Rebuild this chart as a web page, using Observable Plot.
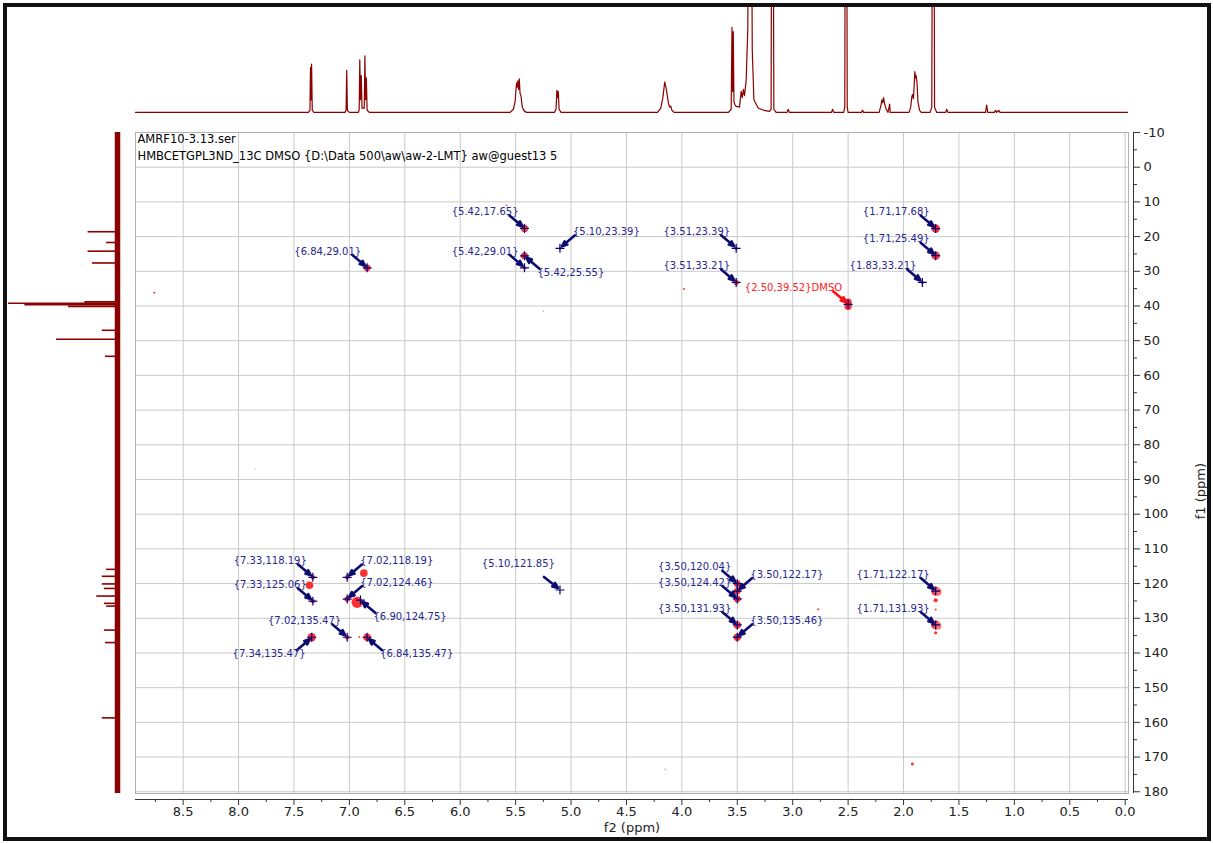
<!DOCTYPE html>
<html><head><meta charset="utf-8">
<script src="https://cdn.jsdelivr.net/npm/d3@7"></script>
<script src="https://cdn.jsdelivr.net/npm/@observablehq/plot@0.6"></script>
<style>
body{margin:0;background:#fff;}
#wrap{position:relative;width:1213px;height:843px;overflow:hidden;background:#fff;font-family:"DejaVu Sans",sans-serif;}
#border{position:absolute;left:3px;top:3px;width:1200px;height:830px;border:4px solid #111;pointer-events:none;}
.part{position:absolute;}
</style></head><body>
<div id="wrap">
<div id="top" class="part" style="left:135px;top:0px;width:993px;height:118px"></div>
<div id="left" class="part" style="left:0px;top:132px;width:135px;height:661px"></div>
<div id="main" class="part" style="left:120px;top:118px;width:1093px;height:725px"></div>
<div id="border"></div>
</div>
<script>
// ---------- data ----------
const xDomain = [8.93, -0.03];      // f2 (ppm)
const yDomain = [-10, 180.5];       // f1 (ppm)
const xMajor = [0,0.5,1,1.5,2,2.5,3,3.5,4,4.5,5,5.5,6,6.5,7,7.5,8,8.5];
const xMinor = [0.25,0.75,1.25,1.75,2.25,2.75,3.25,3.75,4.25,4.75,5.25,5.75,6.25,6.75,7.25,7.75,8.25,8.75];
const yMajor = [-10,0,10,20,30,40,50,60,70,80,90,100,110,120,130,140,150,160,170,180];
const yMinor = [-5,5,15,25,35,45,55,65,75,85,95,105,115,125,135,145,155,165,175];
const header1 = "AMRF10-3.13.ser";
const header2 = "HMBCETGPL3ND_13C DMSO {D:\\Data 500\\aw\\aw-2-LMT} aw@guest13 5";

// 1H projection (top), hand-read [shift ppm, relative height]
const protonProjection = [
[8.93,0],[7.37,0],[7.356,0.02],[7.351,0.43],[7.346,0.12],[7.341,0.46],[7.335,0.02],[7.32,0],
[7.04,0],[7.03,0.02],[7.024,0.40],[7.018,0.02],[7.00,0],
[6.92,0],[6.912,0.02],[6.906,0.50],[6.90,0.12],[6.893,0.35],[6.886,0.04],[6.866,0.04],[6.86,0.54],[6.854,0.12],[6.847,0.33],[6.84,0.02],[6.82,0],
[5.55,0],[5.52,0.03],[5.505,0.10],[5.492,0.28],[5.486,0.24],[5.48,0.30],[5.473,0.22],[5.467,0.32],[5.46,0.18],[5.452,0.16],[5.44,0.05],[5.42,0.01],[5.40,0],
[5.15,0],[5.135,0.03],[5.128,0.21],[5.122,0.14],[5.115,0.20],[5.108,0.03],[5.09,0],
[4.22,0],[4.19,0.04],[4.17,0.15],[4.155,0.29],[4.14,0.22],[4.12,0.08],[4.11,0.05],[4.10,0.06],[4.09,0.02],[4.07,0],
[3.58,0],[3.555,0.03],[3.548,0.81],[3.542,0.2],[3.536,0.77],[3.53,0.1],[3.515,0.06],[3.48,0.05],[3.465,0.20],[3.455,0.14],[3.445,0.22],[3.435,0.16],[3.42,0.3],[3.405,0.8],[3.395,3],[3.375,3],[3.365,0.6],[3.35,0.12],[3.31,0.04],[3.26,0.02],[3.21,0.01],
[3.195,0.03],[3.188,3],[3.178,3],[3.17,0.03],[3.15,0],
[3.05,0],[3.04,0.03],[3.03,0],
[2.65,0],[2.64,0.03],[2.63,0],
[2.54,0],[2.53,0.05],[2.524,3],[2.514,3],[2.508,0.05],[2.50,0],
[2.38,0],[2.37,0.02],[2.36,0],
[2.22,0],[2.205,0.06],[2.195,0.12],[2.188,0.09],[2.18,0.14],[2.17,0.08],[2.16,0.04],[2.14,0],[2.125,0.08],[2.12,0],
[1.95,0],[1.935,0.05],[1.925,0.15],[1.918,0.17],[1.91,0.13],[1.898,0.39],[1.892,0.33],[1.886,0.35],[1.878,0.28],[1.87,0.1],[1.855,0.02],[1.84,0],
[1.76,0],[1.745,0.05],[1.737,3],[1.727,3],[1.72,0.05],[1.70,0],
[1.62,0],[1.61,0.03],[1.60,0],
[1.26,0],[1.25,0.07],[1.24,0],
[1.18,0],[1.17,0.02],[1.16,0],[1.14,0.02],[1.13,0],
[-0.03,0]
];

// 13C projection (left), hand-read [shift ppm, relative height]
const carbonProjection = [
[18.6,0.27],[21.7,0.10],[24.2,0.27],[27.6,0.23],
[39.2,1.0],[39.6,0.85],[40.1,0.45],[38.8,0.3],
[47.0,0.14],[49.6,0.56],[54.5,0.11],
[115.9,0.10],[117.9,0.14],[120.1,0.14],[121.4,0.12],[123.6,0.19],[125.7,0.12],[126.5,0.10],
[133.4,0.12],[137.0,0.11],[158.7,0.14]
];

// labelled cross peaks
const crossF2 = [5.42,5.10,5.42,5.42,6.84,3.51,3.51,2.50,1.71,1.71,1.83,
                 7.33,7.33,7.02,7.02,6.90,7.02,7.34,6.84,5.10,3.50,3.50,3.50,3.50,3.50,1.71,1.71];
const crossF1 = [17.65,23.39,29.01,25.55,29.01,23.39,33.21,39.52,17.68,25.49,33.21,
                 118.19,125.06,118.19,124.46,124.75,135.47,135.47,135.47,121.85,120.04,124.42,122.17,131.93,135.46,122.17,131.93];
const crossSide = ["ul","ur","ul","lr","ul","ul","ul","ul","ul","ul","ul",
                   "ul","ul","ur","ur","lr","ul","ll","lr","ul2","ul","ul","ur","ul","ur","ul","ul"];
const crossNote = ["","","","","","","","DMSO","","","",
                   "","","","","","","","","","","","","","","",""];

// contour blobs (red) and stray noise points
const blobF2 = [5.42,5.42,5.42,5.10,6.84,3.51,3.51,2.50,2.50,1.71,1.71,1.83,
                6.87,7.33,7.36,7.33,7.02,7.02,6.93,7.02,7.34,6.84,6.91,
                3.50,3.50,3.50,3.50,3.50,1.71,1.69,1.71,1.71,1.71,1.69,1.71,
                8.76,3.98,2.77,1.92,5.58,4.15,5.25,7.85];
const blobF1 = [17.65,25.55,29.01,23.39,29.01,23.39,33.21,38.9,40.1,17.68,25.49,33.21,
                117.0,118.19,120.5,125.06,118.19,124.46,125.4,135.47,135.47,135.47,135.4,
                120.04,122.17,124.42,131.93,135.46,122.17,122.4,124.8,127.5,131.93,132.2,134.2,
                36.2,35.1,127.4,172.0,11.0,173.5,41.5,87.0];
const blobR = [3.6,3.6,1.8,1.3,3.4,1.6,2.6,3.6,3.6,4.2,4.2,1.6,
               3.8,2.2,3.8,2.2,2.2,2.8,5.6,2.2,4.2,3.8,0.9,
               3.4,3.4,3.4,3.7,3.7,4.4,3.8,2.1,1,4.4,3.6,1.6,
               1,1,1,1.5,0.8,0.8,0.8,0.6];
const blobTone = ["r","r","r","r","r","r","r","r","r","r","r","r",
                  "r","r","r","r","r","r","r","r","r","r","r",
                  "r","r","r","r","r","r","p","r","r","r","p","r",
                  "r","r","r","r","r","g","g","g"];

// ---------- build ----------
const frameW = 993, frameH = 661;
const kx = frameW / (xDomain[0] - xDomain[1]);
const ky = frameH / (yDomain[1] - yDomain[0]);
const layout = {
  ul:  {anchor: "end",   tx: -6, ty: -16.5, ax: -15, ay: -13},
  ul2: {anchor: "end",   tx: -5, ty: -26,   ax: -16, ay: -13},
  ur:  {anchor: "start", tx: 13, ty: -16.5, ax: 15,  ay: -13},
  lr:  {anchor: "start", tx: 13, ty: 16.5,  ax: 15,  ay: 13},
  ll:  {anchor: "end",   tx: -6, ty: 16.5,  ax: -15, ay: 13}
};
const cross = crossF2.map((f2, i) => {
  const f1 = crossF1[i], L = layout[crossSide[i]], note = crossNote[i];
  return {
    f2, f1, anchor: L.anchor,
    label: `{${f2.toFixed(2)},${f1.toFixed(2)}}${note}`,
    lx: f2 - L.tx / kx, ly: f1 + L.ty / ky,
    ax1: f2 - L.ax / kx, ay1: f1 + L.ay / ky,
    ax2: f2 - Math.sign(L.ax) * 2 / kx, ay2: f1 + Math.sign(L.ay) * 2 / ky,
    tcol: note ? "#ff2020" : "#26268f",
    acol: note ? "#ff1010" : "#0c0c70"
  };
});
const toneColor = {r: "#ff1a1a", p: "#ff7070", g: "#a0a0a0"};
const blobs = blobF2.map((x, i) => ({x, y: blobF1[i], r: blobR[i], c: toneColor[blobTone[i]]}));

const dark = "#8b0000";
const font = "DejaVu Sans, sans-serif";

const topPlot = Plot.plot({
  width: 993, height: 118, marginTop: 7, marginBottom: 4, marginLeft: 0, marginRight: 0,
  x: {domain: xDomain, axis: null}, y: {domain: [-0.02, 1], axis: null},
  style: "background: transparent;",
  marks: [
    Plot.line(protonProjection, {x: d => d[0], y: d => d[1], stroke: dark, strokeWidth: 1.2, clip: true})
  ]
});
document.getElementById("top").appendChild(topPlot);

const leftPlot = Plot.plot({
  width: 135, height: 661, marginTop: 0, marginBottom: 0, marginLeft: 8, marginRight: 18,
  x: {domain: [0, 1], reverse: true, axis: null}, y: {domain: yDomain, reverse: true, axis: null},
  style: "background: transparent;",
  marks: [
    Plot.ruleX([0], {stroke: dark, strokeWidth: 5.5}),
    Plot.ruleY(carbonProjection, {y: d => d[0], x1: 0, x2: d => d[1], stroke: dark, strokeWidth: 1.6})
  ]
});
document.getElementById("left").appendChild(leftPlot);

const mainPlot = Plot.plot({
  width: 1093, height: 725, marginLeft: 15, marginRight: 85, marginTop: 14, marginBottom: 50,
  x: {domain: xDomain, axis: null}, y: {domain: yDomain, reverse: true, axis: null},
  color: {type: "identity"}, r: {type: "identity"},
  style: "background: transparent; overflow: visible; font-family: 'DejaVu Sans', sans-serif; color: #222;",
  marks: [
    Plot.gridX(xMajor, {stroke: "#c9c9c9", strokeOpacity: 1}),
    Plot.gridY(yMajor, {stroke: "#c9c9c9", strokeOpacity: 1}),
    Plot.frame({stroke: "#b0b0b0"}),
    // bottom axis
    Plot.ruleY([yDomain[1]], {dy: 6, stroke: "#333"}),
    Plot.ruleX(xMajor, {x: d => d, insetTop: frameH + 6, insetBottom: -12, stroke: "#333"}),
    Plot.ruleX(xMinor, {x: d => d, insetTop: frameH + 6, insetBottom: -9, stroke: "#333"}),
    Plot.text(xMajor, {x: d => d, frameAnchor: "bottom", dy: 22, text: d => d.toFixed(1), fontSize: 13, fontFamily: font, fill: "#222"}),
    Plot.text(["f2 (ppm)"], {frameAnchor: "bottom", dy: 38, fontSize: 13, fontFamily: font, fill: "#222"}),
    // right axis
    Plot.ruleX([xDomain[1]], {dx: 5, stroke: "#333"}),
    Plot.ruleY(yMajor, {y: d => d, insetLeft: frameW + 5, insetRight: -12, stroke: "#333"}),
    Plot.ruleY(yMinor, {y: d => d, insetLeft: frameW + 5, insetRight: -9, stroke: "#333"}),
    Plot.text(yMajor, {y: d => d, frameAnchor: "right", dx: 15, textAnchor: "start", text: d => String(d), fontSize: 13, fontFamily: font, fill: "#222"}),
    Plot.text(["f1 (ppm)"], {frameAnchor: "right", dx: 72, rotate: -90, fontSize: 13, fontFamily: font, fill: "#222"}),
    // header
    Plot.text([header1], {frameAnchor: "top-left", dx: 2, dy: 2, lineAnchor: "top", textAnchor: "start", fontSize: 11.5, fontFamily: font, fill: "#000"}),
    Plot.text([header2], {frameAnchor: "top-left", dx: 2, dy: 19, lineAnchor: "top", textAnchor: "start", fontSize: 11.5, fontFamily: font, fill: "#000"}),
    // contours
    Plot.dot(blobs, {x: "x", y: "y", r: "r", fill: "c", fillOpacity: 0.9, stroke: "none"}),
    // pointers
    Plot.arrow(cross, {x1: "ax1", y1: "ay1", x2: "ax2", y2: "ay2", stroke: "acol", strokeWidth: 2.6, headLength: 10, headAngle: 45}),
    // peak crosses
    Plot.dot(cross, {x: "f2", y: "f1", symbol: "plus", r: 3, stroke: "#00007a", strokeWidth: 1.2}),
    // labels
    Plot.text(cross.filter(d => d.anchor === "end"), {x: "lx", y: "ly", text: "label", fill: "tcol", textAnchor: "end", fontSize: 10, fontFamily: font}),
    Plot.text(cross.filter(d => d.anchor === "start"), {x: "lx", y: "ly", text: "label", fill: "tcol", textAnchor: "start", fontSize: 10, fontFamily: font})
  ]
});
document.getElementById("main").appendChild(mainPlot);
</script>
</body></html>
